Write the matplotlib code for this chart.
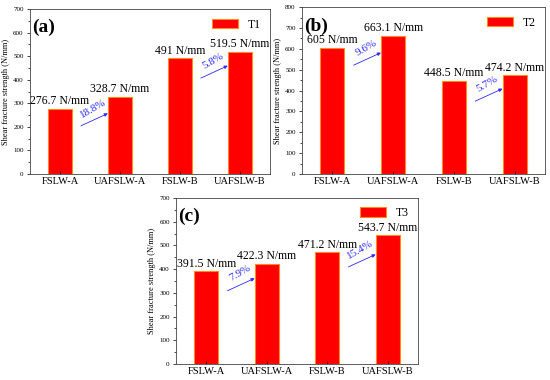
"Shear fracture strength bar charts for T1, T2, T3"

import matplotlib
matplotlib.use("Agg")
import matplotlib.pyplot as plt
from matplotlib.ticker import MultipleLocator
import numpy as np

plt.rcParams['font.family'] = ['Liberation Serif', 'DejaVu Serif']

categories = ["FSLW-A", "UAFSLW-A", "FSLW-B", "UAFSLW-B"]
t1_values = [276.7, 328.7, 491, 519.5]
t2_values = [605, 663.1, 448.5, 474.2]
t3_values = [391.5, 422.3, 471.2, 543.7]
value_labels = {
    "T1": ["276.7 N/mm", "328.7 N/mm", "491 N/mm", "519.5 N/mm"],
    "T2": ["605 N/mm", "663.1 N/mm", "448.5 N/mm", "474.2 N/mm"],
    "T3": ["391.5 N/mm", "422.3 N/mm", "471.2 N/mm", "543.7 N/mm"],
}
increase_labels = {
    "T1": ["18.8%", "5.8%"],
    "T2": ["9.6%", "5.7%"],
    "T3": ["7.9%", "15.4%"],
}

RED = "#ff0000"
EDGE = "#ff8c1a"
BLUE = "#2a2aff"


def plot_panel(ax, values, name, tag, ymax):
    x = np.arange(len(categories))
    ax.bar(x, values, width=0.4, color=RED, edgecolor=EDGE, linewidth=0.8, label=name)
    ax.set_xlim(-0.5, 3.5)
    ax.set_ylim(0, ymax)
    ax.set_xticks(x)
    ax.set_xticklabels(categories, fontsize=7.5)
    ax.yaxis.set_major_locator(MultipleLocator(100))
    ax.yaxis.set_minor_locator(MultipleLocator(50))
    ax.tick_params(axis='y', which='major', labelsize=5, length=2.5, width=0.5, pad=2)
    ax.tick_params(axis='y', which='minor', length=1.5, width=0.5)
    ax.tick_params(axis='x', direction='in', length=2, width=0.5, pad=2)
    for s in ax.spines.values():
        s.set_linewidth(0.6)
        s.set_color("#444444")
    ax.set_ylabel("Shear fracture strength (N/mm)", fontsize=6, labelpad=2)

    for xi, v, lab in zip(x, values, value_labels[name]):
        ax.annotate(lab, (xi, v), xytext=(0, 1), textcoords="offset points",
                    ha="center", va="bottom", fontsize=8.5)

    # arrows with percentage increase between each pair
    for k, pct in enumerate(increase_labels[name]):
        i = 2 * k
        mid = (values[i] + values[i + 1]) / 2
        y_end = mid - 0.065 * ymax
        y_start = y_end - 0.075 * ymax
        ax.annotate("", xy=(i + 0.8, y_end), xytext=(i + 0.35, y_start),
                    arrowprops=dict(arrowstyle="-|>", color=BLUE, lw=0.6,
                                    mutation_scale=5, shrinkA=0, shrinkB=0))
        ax.annotate(pct, (i + 0.575, (y_start + y_end) / 2),
                    xytext=(-1, 8), textcoords="offset points",
                    ha="center", va="center", rotation=30,
                    fontsize=8, color=BLUE)

    ax.text(0.01, 0.94, tag, transform=ax.transAxes, fontsize=14,
            fontweight="bold", ha="left", va="top")
    ax.legend(loc="upper right", frameon=False, fontsize=8.5,
              handlelength=2.2, handleheight=0.9, borderaxespad=0.4)


fig = plt.figure(figsize=(5.5, 3.8), dpi=100)
ax_a = fig.add_axes([0.0545, 0.542, 0.436, 0.434])
ax_b = fig.add_axes([0.549, 0.542, 0.442, 0.439])
ax_c = fig.add_axes([0.32, 0.042, 0.44, 0.437])

plot_panel(ax_a, t1_values, "T1", "(a)", 700)
plot_panel(ax_b, t2_values, "T2", "(b)", 800)
plot_panel(ax_c, t3_values, "T3", "(c)", 700)

fig.savefig("out.png", dpi=100)
